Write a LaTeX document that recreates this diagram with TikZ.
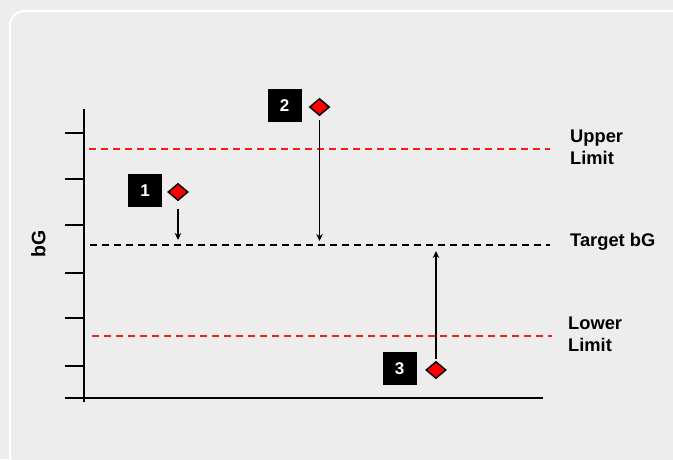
\documentclass[tikz,border=0pt]{standalone}
\usepackage{fontspec}
\setmainfont{Liberation Sans}
\usetikzlibrary{arrows.meta,shapes.geometric}
\definecolor{panelbg}{HTML}{ECEDEC}
\definecolor{limitred}{HTML}{FF1A1A}
\tikzset{
  axisline/.style={line width=2pt,black},
  limitline/.style={line width=1.3pt,limitred,dash pattern=on 7pt off 5pt},
  targetline/.style={line width=1.3pt,black,dash pattern=on 7pt off 5pt},
  numbox/.style={fill=black,text=white,minimum width=34pt,minimum height=33pt,inner sep=0pt,font=\bfseries\fontsize{17}{17}\selectfont},
  reading/.style={diamond,fill=red,draw=black,line width=1.5pt,minimum width=20pt,minimum height=17pt,inner sep=0pt},
  moveto/.style={line width=1.2pt,-{Stealth[length=7pt,width=6.5pt]}},
  sidelabel/.style={anchor=west,align=left,font=\bfseries\fontsize{18.3}{22}\selectfont,inner sep=0pt}
}
\begin{document}
\begin{tikzpicture}[x=1pt,y=-1pt]
  \useasboundingbox (0,0) rectangle (673,459);
  \clip (0,0) rectangle (673,459);
  % panel
  \fill[panelbg] (0,0) rectangle (673,459);
  \draw[white,line width=2pt,fill=panelbg,rounded corners=14pt] (10,11) rectangle (690,480);

  % axes
  \draw[axisline] (84,109) -- (84,402);
  \draw[axisline] (65,398) -- (543,398);
  \foreach \ty in {132.7,179,225,273,318,366}
    \draw[axisline] (65,\ty) -- (84,\ty);
  \node[rotate=90,font=\bfseries\fontsize{19.5}{19.5}\selectfont] (ylab) at (38.5,244) {bG};

  % reference levels
  \draw[limitline] (89,149) -- (550,149);
  \draw[targetline] (90,245) -- (550,245);
  \draw[limitline] (92,336) -- (552,336);

  \node[sidelabel] (upper) at (570,147.5) {Upper\\Limit};
  \node[sidelabel] (target) at (570,242) {Target bG};
  \node[sidelabel] (lower) at (568,334) {Lower\\Limit};

  % readings
  \node[numbox] (n1) at (145,190.5) {1};
  \node[reading] (d1) at (178,192) {};
  \node[numbox] (n2) at (284.5,105.5) {2};
  \node[reading] (d2) at (319.5,107) {};
  \node[numbox] (n3) at (399.5,368.5) {3};
  \node[reading] (d3) at (436,370) {};

  \coordinate (t1) at (178,240);
  \coordinate (t2) at (319.5,241);
  \coordinate (t3) at (436,251);

  \draw[moveto] ([yshift=-8pt]d1.south) -- (t1);
  \draw[moveto] ([yshift=-4pt]d2.south) -- (t2);
  \draw[moveto] ([yshift=2pt]d3.north) -- (t3);
\end{tikzpicture}
\end{document}
